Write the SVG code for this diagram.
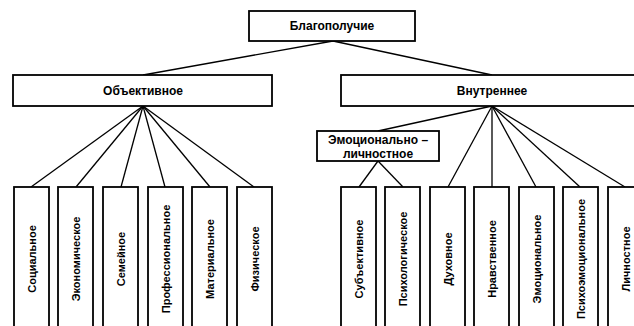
<svg xmlns="http://www.w3.org/2000/svg" width="634" height="326" viewBox="0 0 634 326">
<style>
.box{fill:#fff;stroke:#000;stroke-width:1.8}
.ln{stroke:#000;stroke-width:1.3;fill:none}
.t{font-family:"Liberation Sans",Arial,sans-serif;font-weight:bold;font-size:11px;fill:#000;text-anchor:middle;dominant-baseline:central}
.h{font-size:12px}
</style>
<rect width="634" height="326" fill="#fff"/>
<g id="connectors">
<line class="ln" x1="333" y1="41" x2="143" y2="75"/>
<line class="ln" x1="333" y1="41" x2="492" y2="75"/>
<line class="ln" x1="143" y1="106" x2="31" y2="187"/>
<line class="ln" x1="143" y1="106" x2="76" y2="187"/>
<line class="ln" x1="143" y1="106" x2="121" y2="187"/>
<line class="ln" x1="143" y1="106" x2="165" y2="187"/>
<line class="ln" x1="143" y1="106" x2="210" y2="187"/>
<line class="ln" x1="143" y1="106" x2="254" y2="187"/>
<line class="ln" x1="492" y1="106" x2="378" y2="131"/>
<line class="ln" x1="378" y1="161" x2="359" y2="187"/>
<line class="ln" x1="378" y1="161" x2="403" y2="187"/>
<line class="ln" x1="492" y1="106" x2="448" y2="187"/>
<line class="ln" x1="492" y1="106" x2="492" y2="187"/>
<line class="ln" x1="492" y1="106" x2="536" y2="187"/>
<line class="ln" x1="492" y1="106" x2="580" y2="187"/>
<line class="ln" x1="492" y1="106" x2="625" y2="187"/>
</g>
<g id="n-blagopoluchie"><rect class="box" x="249" y="11" width="166" height="30"/><text class="t h" x="332" y="26">Благополучие</text></g>
<g id="n-obektivnoe"><rect class="box" x="13" y="75" width="259" height="31"/><text class="t h" x="143" y="91">Объективное</text></g>
<g id="n-vnutrennee"><rect class="box" x="341" y="75" width="300" height="31"/><text class="t h" x="492" y="91">Внутреннее</text></g>
<g id="n-emocionalno"><rect class="box" x="317" y="131" width="122" height="30"/><text class="t h" x="378" y="140">Эмоционально –</text><text class="t h" x="378" y="154">личностное</text></g>
<g id="n-socialnoe"><rect class="box" x="14" y="187" width="35" height="150"/><text class="t" transform="translate(31.5,259) rotate(-90)">Социальное</text></g>
<g id="n-ekonomicheskoe"><rect class="box" x="58" y="187" width="35" height="150"/><text class="t" transform="translate(75.5,259) rotate(-90)">Экономическое</text></g>
<g id="n-semeynoe"><rect class="box" x="103" y="187" width="35" height="150"/><text class="t" transform="translate(120.5,259) rotate(-90)">Семейное</text></g>
<g id="n-professionalnoe"><rect class="box" x="148" y="187" width="35" height="150"/><text class="t" transform="translate(165.5,259) rotate(-90)">Профессиональное</text></g>
<g id="n-materialnoe"><rect class="box" x="192" y="187" width="35" height="150"/><text class="t" transform="translate(209.5,259) rotate(-90)">Материальное</text></g>
<g id="n-fizicheskoe"><rect class="box" x="237" y="187" width="35" height="150"/><text class="t" transform="translate(254.5,259) rotate(-90)">Физическое</text></g>
<g id="n-subektivnoe"><rect class="box" x="341" y="187" width="35" height="150"/><text class="t" transform="translate(358.5,259) rotate(-90)">Субъективное</text></g>
<g id="n-psihologicheskoe"><rect class="box" x="385" y="187" width="35" height="150"/><text class="t" transform="translate(402.5,259) rotate(-90)">Психологическое</text></g>
<g id="n-duhovnoe"><rect class="box" x="430" y="187" width="35" height="150"/><text class="t" transform="translate(447.5,259) rotate(-90)">Духовное</text></g>
<g id="n-nravstvennoe"><rect class="box" x="474" y="187" width="35" height="150"/><text class="t" transform="translate(491.5,259) rotate(-90)">Нравственное</text></g>
<g id="n-emocionalnoe"><rect class="box" x="519" y="187" width="35" height="150"/><text class="t" transform="translate(536.5,259) rotate(-90)">Эмоциональное</text></g>
<g id="n-psihoemocionalnoe"><rect class="box" x="563" y="187" width="35" height="150"/><text class="t" transform="translate(580.5,259) rotate(-90)">Психоэмоциональное</text></g>
<g id="n-lichnostnoe"><rect class="box" x="608" y="187" width="35" height="150"/><text class="t" transform="translate(625.5,259) rotate(-90)">Личностное</text></g>
</svg>
